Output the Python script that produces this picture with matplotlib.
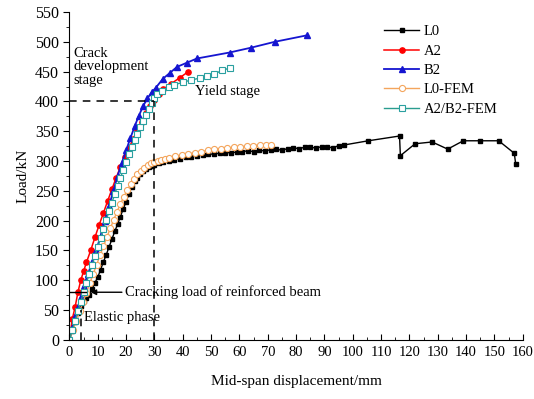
import numpy as np
import matplotlib
matplotlib.use("Agg")
import matplotlib.pyplot as plt
from matplotlib.ticker import MultipleLocator

plt.rcParams["font.family"] = "Liberation Serif"
plt.rcParams["font.size"] = 10.5

# measured load-displacement curves (mm, kN)
l0_x = [0, 1, 2, 3, 4, 5, 6, 7, 8, 9, 10, 11, 12, 13, 14, 15, 16, 17, 18, 19,
        20, 21, 22, 23, 24, 25, 26, 27, 28, 29, 30, 31.5, 33, 35, 37, 39, 41,
        43, 45, 47, 49, 51, 53, 55, 57, 59, 61, 63, 65, 67, 69, 71, 73, 75,
        77, 79, 81, 83, 85, 87, 89, 91, 93, 95, 97, 105.5, 116.5, 116.8,
        122, 128, 133.5, 139, 145, 151.5, 157, 157.5]
l0_y = [0, 15, 30, 45, 57, 65, 70, 76, 86, 96, 105, 118, 131, 143, 156, 169,
        182, 194, 207, 220, 232, 245, 257, 266, 272, 278, 283, 287, 290, 292,
        294, 296, 298, 300, 302, 304, 306, 307, 309, 310, 311, 312, 313, 314,
        314, 315, 316, 317, 316, 318, 317, 319, 320, 318, 321, 322, 321, 323,
        323, 322, 324, 324, 322, 326, 327, 334, 342, 309, 329, 332, 320, 334,
        334, 334, 313, 295]

a2_x = [0, 1, 2, 3, 4, 5, 6, 7.5, 9, 10.5, 12, 13.5, 15, 16.5, 18, 19.5, 21,
        22.5, 24, 25.5, 27, 28.5, 30, 31.5, 33, 36, 39, 42]
a2_y = [0, 35, 55, 80, 100, 115, 130, 150, 172, 193, 213, 233, 253, 272, 290,
        306, 322, 337, 352, 366, 380, 392, 403, 412, 420, 430, 440, 450]

b2_x = [0, 1, 2, 3, 4, 5, 6.5, 8, 9.5, 11, 12.5, 14, 15.5, 17, 18.5, 20, 21.5,
        23, 24.5, 26, 27.5, 29, 30.5, 33, 35.5, 38, 41.5, 45, 56.5, 64, 72.5,
        84]
b2_y = [0, 20, 40, 55, 72, 90, 110, 130, 150, 175, 200, 225, 250, 275, 297,
        318, 338, 358, 376, 392, 405, 415, 423, 438, 448, 458, 465, 472, 482,
        490, 500, 511]

# finite element results
l0fem_x = [0, 1.2, 2.4, 3.6, 4.8, 6, 7.2, 8.4, 9.6, 10.8, 12, 13.2, 14.4,
           15.6, 16.8, 18, 19.2, 20.4, 21.6, 22.8, 24, 25.2, 26.4, 27.6, 28.8,
           30, 31.2, 32.4, 33.6, 35, 37.3, 39.6, 41.9, 44.2, 46.5, 48.8, 51.1,
           53.4, 55.7, 58, 60.3, 62.6, 64.9, 67.2, 69.5, 71]
l0fem_y = [0, 16, 32, 48, 63, 79, 95, 111, 126, 142, 157, 172, 187, 201, 215,
           228, 240, 251, 261, 270, 278, 284, 289, 293, 296, 298, 300, 302,
           304, 305, 308, 310, 312, 314, 316, 318, 320, 321, 322, 323, 324,
           325, 326, 327, 327, 327]

abfem_x = [0, 1, 2, 3, 4, 5, 6, 7, 8, 9, 10, 11, 12, 13, 14, 15, 16, 17, 18,
           19, 20, 21, 22, 23, 24, 25, 26, 27, 28, 29, 30, 31, 32.5, 35, 37,
           40, 43, 46, 48.5, 51, 54, 56.5]
abfem_y = [0, 16, 32, 48, 64, 80, 96, 111, 126, 141, 156, 171, 186, 201, 216,
           230, 245, 258, 272, 285, 298, 311, 323, 335, 346, 357, 368, 378,
           388, 397, 405, 412, 418, 424, 428, 432, 436, 439, 443, 446, 452,
           456]

fig = plt.figure(figsize=(5.34, 3.99), dpi=100)
ax = fig.add_axes([0.130, 0.148, 0.849, 0.822])

ax.plot(l0_x, l0_y, color="black", lw=1, marker="s", ms=3.5, label="L0")
ax.plot(a2_x, a2_y, color="red", lw=1.1, marker="o", ms=3.8, label="A2")
ax.plot(b2_x, b2_y, color="#1515d0", lw=1.3, marker="^", ms=4.3, label="B2")
ax.plot(l0fem_x, l0fem_y, color="#f4a55c", lw=1, marker="o", ms=4.4,
        mfc="white", mec="#f4a55c", mew=0.8, label="L0-FEM")
ax.plot(abfem_x, abfem_y, color="#2a9d8f", lw=1, marker="s", ms=4,
        mfc="white", mec="#2aa0a0", mew=0.8, label="A2/B2-FEM")

# stage boundaries
ax.plot([0, 30], [400, 400], color="black", lw=1.1, ls=(0, (5, 4)))
ax.plot([30, 30], [0, 400], color="black", lw=1.1, ls=(0, (5, 4)))
ax.plot([4, 4], [0, 50], color="black", lw=1.1, ls=(0, (5, 4)))
ax.plot([0, 6], [80, 80], color="black", lw=1)
ax.annotate("", xy=(6.5, 80), xytext=(19.5, 80),
            arrowprops=dict(arrowstyle="-|>", color="black", lw=1,
                            mutation_scale=8))

ax.text(19.6, 80, "Cracking load of reinforced beam", va="center", ha="left",
        fontsize=10.5)
ax.text(5.3, 38, "Elastic phase", va="center", ha="left", fontsize=10.5)
ax.text(1.5, 492, "Crack\ndevelopment\nstage", va="top", ha="left",
        fontsize=10.5, linespacing=1.05)
ax.text(44.3, 416, "Yield stage", va="center", ha="left", fontsize=10.5)

ax.set_xlim(0, 160)
ax.set_ylim(0, 550)
ax.xaxis.set_major_locator(MultipleLocator(10))
ax.xaxis.set_minor_locator(MultipleLocator(5))
ax.yaxis.set_major_locator(MultipleLocator(50))
ax.yaxis.set_minor_locator(MultipleLocator(25))
ax.tick_params(axis="x", which="both", direction="in", pad=4, labelsize=10.5)
ax.tick_params(axis="y", which="both", direction="out", labelsize=11.5)
ax.tick_params(which="major", length=4)
ax.tick_params(which="minor", length=2.5)
ax.spines["top"].set_visible(False)
ax.spines["right"].set_visible(False)

ax.set_xlabel("Mid-span displacement/mm", fontsize=11, labelpad=12)
ax.set_ylabel("Load/kN", fontsize=11, labelpad=4)

ax.legend(loc="upper left", bbox_to_anchor=(0.665, 1.0), frameon=False,
          handlelength=2.4, labelspacing=0.42, fontsize=10.5, numpoints=1,
          handletextpad=0.3)

fig.savefig("out.png", dpi=100)
